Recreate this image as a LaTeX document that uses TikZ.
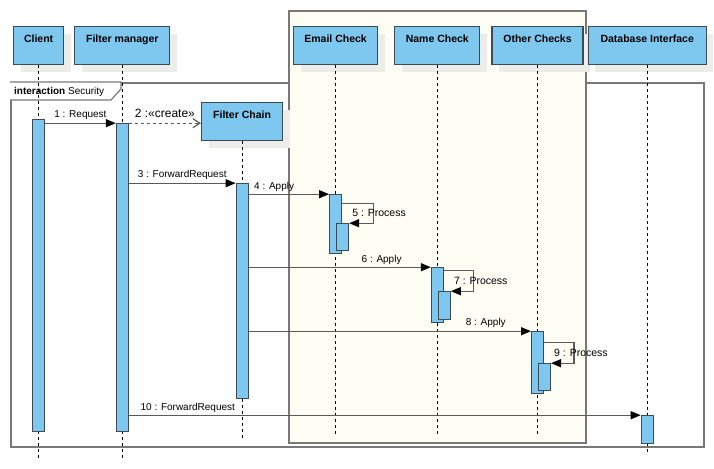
\documentclass[tikz,border=0pt]{standalone}
\usepackage{fontspec}
\setmainfont{Liberation Sans}
\usetikzlibrary{arrows.meta, positioning, shadows, calc}

\definecolor{lifeblue}{RGB}{126,200,240}
\definecolor{boxborder}{RGB}{62,74,86}
\definecolor{framegray}{RGB}{120,120,120}
\definecolor{msggray}{RGB}{90,90,90}
\definecolor{paleyellow}{RGB}{254,254,244}
\definecolor{shadowgray}{RGB}{236,236,233}

\begin{document}
\begin{tikzpicture}[
        x=1pt, y=-1pt,
        head/.style={draw=boxborder, fill=lifeblue, line width=1.2pt, font=\fontsize{10.5}{12}\selectfont\bfseries,
            text height=8pt, text depth=14.4pt, inner ysep=7.8pt, inner xsep=0pt, anchor=north west,
            drop shadow={shadow xshift=7pt, shadow yshift=-7pt, fill=shadowgray, opacity=1}},
        act/.style={draw=boxborder, fill=lifeblue, line width=1pt, minimum width=12pt, inner sep=0pt, anchor=north},
        lifeline/.style={dash pattern=on 3pt off 3pt, line width=0.8pt},
        msg/.style={draw=msggray, line width=1.2pt, -{Triangle[length=10pt, width=8pt, color=black]}},
        create/.style={draw=msggray, line width=1.2pt, dash pattern=on 3pt off 3pt, -{Straight Barb[length=7pt, width=9pt]}},
        lbl/.style={font=\fontsize{10}{12}\selectfont, inner sep=1pt},
        proc/.style={font=\fontsize{10.5}{12}\selectfont, inner sep=0pt, anchor=west},
        region/.style={draw=framegray, line width=1.6pt, inner sep=0pt, anchor=north west}
    ]
    \useasboundingbox (0,0) rectangle (714,468);

    % Frames
    \node[region, minimum width=693, minimum height=364] (security) at (10,82) {};
    \node[region, fill=paleyellow, minimum width=297, minimum height=432] (checks) at (288,10) {};
    \draw[draw=framegray, fill=white, line width=1.2pt] (security.north west) -- ++(111,0) -- ++(0,7) -- ++(-10,11) -- ++(-101,0);
    \node[anchor=west, inner sep=0pt, font=\fontsize{10}{12}\selectfont] (frameTag) at (14,91.5) {\textbf{interaction} Security};

    % Lifelines
    \node[head, minimum width=50] (client) at (13,26) {Client};
    \node[head, minimum width=95, right=10 of client] (fm) {Filter manager};
    \node[head, minimum width=81] (chain) at (201,102) {Filter Chain};
    \node[head, minimum width=84] (email) at (293,26) {Email Check};
    \node[head, minimum width=85, right=16 of email] (name) {Name Check};
    \node[head, minimum width=91, right=11 of name] (other) {Other Checks};
    \node[head, minimum width=118, right=4 of other] (db) {Database Interface};

    \draw[lifeline] (client.south) -- ++(0,394);
    \draw[lifeline] (fm.south) -- ++(0,394);
    \draw[lifeline] (chain.south) -- ++(0,299);
    \draw[lifeline] (email.south) -- ++(0,371);
    \draw[lifeline] (name.south) -- ++(0,371);
    \draw[lifeline] (other.south) -- ++(0,371);
    \draw[lifeline] (db.south) -- ++(0,389);

    % Activations
    \node[act, minimum height=312] (actClient) at ($(client.south)+(0,54)$) {};
    \node[act, minimum height=308] (actFM) at ($(fm.south)+(0,58)$) {};
    \node[act, minimum height=215] (actChain) at ($(chain.south)+(0,42)$) {};
    \node[act, minimum height=59] (actEmail) at ($(email.south)+(0,129)$) {};
    \node[act, minimum height=27] (subEmail) at ($(actEmail.north)+(7,29)$) {};
    \node[act, minimum height=55] (actName) at ($(name.south)+(0,202)$) {};
    \node[act, minimum height=28] (subName) at ($(actName.north)+(7,24)$) {};
    \node[act, minimum height=62] (actOther) at ($(other.south)+(0,266)$) {};
    \node[act, minimum height=27] (subOther) at ($(actOther.north)+(7,32)$) {};
    \node[act, minimum height=28] (actDB) at ($(db.south)+(0,350)$) {};

    % Messages
    \draw[msg] (actClient.east |- actFM.north) -- (actFM.north west) node[lbl, midway, above=2pt] (m1) {1 : Request};
    \draw[create] (actFM.north east) -- (chain.west |- actFM.north east) node[midway, above=4pt, inner sep=1pt, font=\fontsize{12}{14}\selectfont] (m2) {2 :«create»};
    \draw[msg] (actFM.east |- actChain.north) -- (actChain.north west) node[lbl, midway, above=2pt] (m3) {3 : ForwardRequest};
    \draw[msg] (actChain.east |- actEmail.north) -- (actEmail.north west) node[lbl, pos=0.05, anchor=south west, yshift=1pt] (m4) {4 : Apply};
    \draw[msg] ($(actEmail.north east)+(0,9)$) -- ++(31,0) |- (subEmail.north east);
    \node[proc] (m5) at ($(subEmail.north east)+(3,-10)$) {5 : Process};
    \draw[msg] (actChain.east |- actName.north) -- (actName.north west) node[lbl, pos=0.73, above=1pt] (m6) {6 : Apply};
    \draw[msg] ($(actName.north east)+(0,3.5)$) -- ++(30,0) |- (subName.north east);
    \node[proc] (m7) at ($(subName.north east)+(3,-10)$) {7 : Process};
    \draw[msg] (actChain.east |- actOther.north) -- (actOther.north west) node[lbl, pos=0.84, above=2pt] (m8) {8 : Apply};
    \draw[msg] ($(actOther.north east)+(0,11)$) -- ++(30,0) |- (subOther.north east);
    \node[proc] (m9) at ($(subOther.north east)+(3,-10)$) {9 : Process};
    \draw[msg] (actFM.east |- actDB.north) -- (actDB.north west) node[lbl, pos=0.02, anchor=south west, yshift=1pt] (m10) {10 : ForwardRequest};

\end{tikzpicture}
\end{document}
